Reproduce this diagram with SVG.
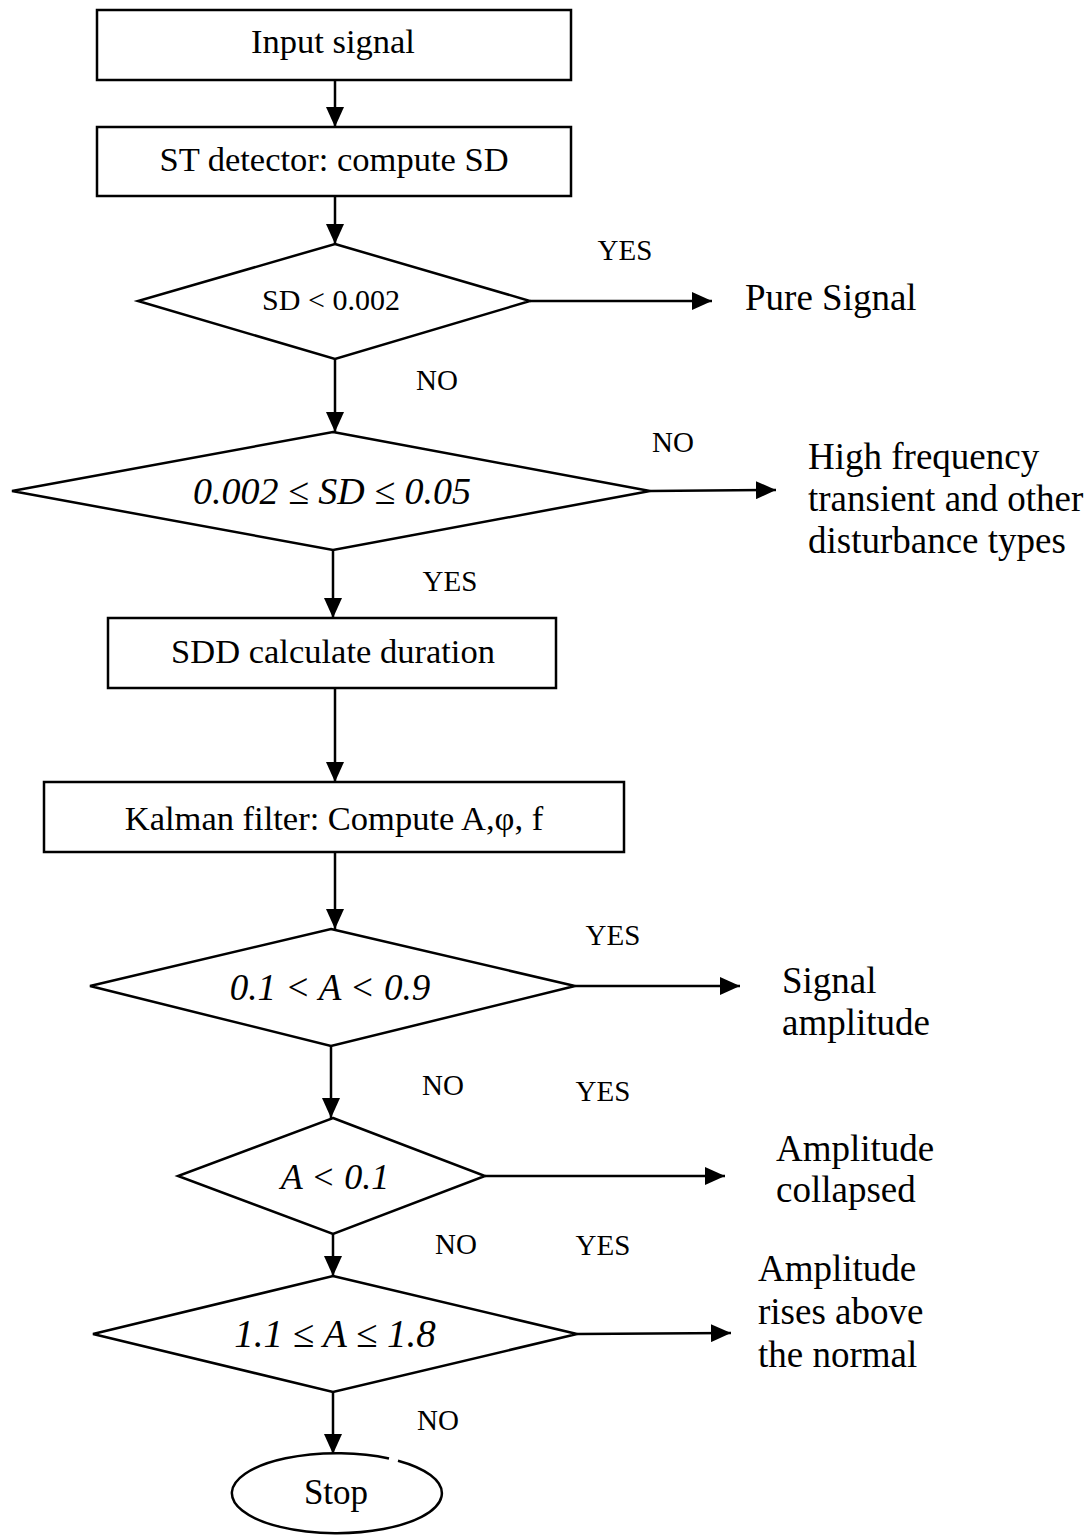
<svg xmlns="http://www.w3.org/2000/svg" width="1088" height="1535" viewBox="0 0 1088 1535">
<style>
.box{fill:#fff;stroke:#000;stroke-width:2.5}
.t{font-family:"Liberation Serif","Times New Roman",serif;fill:#000}
.c{text-anchor:middle}
.it{font-style:italic}
.lbl{font-size:29px}
.side{font-size:37px}
.bx{font-size:34.5px}
.con{fill:none;stroke:#000;stroke-width:2.5}
</style>
<defs>
<marker id="ah" viewBox="0 0 20 18" refX="20" refY="9" markerWidth="20" markerHeight="18" markerUnits="userSpaceOnUse" orient="auto">
<path d="M0,0 L20,9 L0,18 z" fill="#000"/>
</marker>
</defs>
<rect width="1088" height="1535" fill="#fff"/>

<g id="connectors">
<line class="con" x1="335" y1="80" x2="335" y2="127" marker-end="url(#ah)"/>
<line class="con" x1="335" y1="196" x2="335" y2="244" marker-end="url(#ah)"/>
<line class="con" x1="530" y1="301" x2="712" y2="301" marker-end="url(#ah)"/>
<line class="con" x1="335" y1="359" x2="335" y2="432" marker-end="url(#ah)"/>
<line class="con" x1="650" y1="491" x2="776" y2="490" marker-end="url(#ah)"/>
<line class="con" x1="333" y1="550" x2="333" y2="618" marker-end="url(#ah)"/>
<line class="con" x1="335" y1="688" x2="335" y2="782" marker-end="url(#ah)"/>
<line class="con" x1="335" y1="852" x2="335" y2="929" marker-end="url(#ah)"/>
<line class="con" x1="575" y1="986" x2="740" y2="986" marker-end="url(#ah)"/>
<line class="con" x1="331" y1="1046" x2="331" y2="1118" marker-end="url(#ah)"/>
<line class="con" x1="485" y1="1176" x2="725" y2="1176" marker-end="url(#ah)"/>
<line class="con" x1="333" y1="1234" x2="333" y2="1276" marker-end="url(#ah)"/>
<line class="con" x1="577" y1="1334" x2="731" y2="1333" marker-end="url(#ah)"/>
<line class="con" x1="333" y1="1392" x2="333" y2="1454" marker-end="url(#ah)"/>
</g>

<g id="labels">
<text class="t lbl c" x="625" y="260">YES</text>
<text class="t lbl c" x="437" y="390">NO</text>
<text class="t lbl c" x="673" y="452">NO</text>
<text class="t lbl c" x="450" y="591">YES</text>
<text class="t lbl c" x="613" y="945">YES</text>
<text class="t lbl c" x="443" y="1095">NO</text>
<text class="t lbl c" x="603" y="1101">YES</text>
<text class="t lbl c" x="456" y="1254">NO</text>
<text class="t lbl c" x="603" y="1255">YES</text>
<text class="t lbl c" x="438" y="1430">NO</text>
</g>

<g id="input">
<rect class="box" x="97" y="10" width="474" height="70"/>
<text class="t bx c" x="333" y="53">Input signal</text>
</g>
<g id="st-detector">
<rect class="box" x="97" y="127" width="474" height="69"/>
<text class="t bx c" x="334" y="171">ST detector: compute SD</text>
</g>
<g id="d-sd">
<polygon class="box" points="335,244 530,301 335,359 138,301"/>
<text class="t c" x="331" y="310" font-size="30">SD &lt; 0.002</text>
</g>
<g id="pure">
<text class="t side" x="745" y="310">Pure Signal</text>
</g>
<g id="d-range">
<polygon class="box" points="333,432 650,491 333,550 12,491"/>
<text class="t it c" x="332" y="504" font-size="38">0.002 ≤ SD ≤ 0.05</text>
</g>
<g id="hf">
<text class="t side" x="808" y="469">High frequency</text>
<text class="t side" x="808" y="511">transient and other</text>
<text class="t side" x="808" y="553">disturbance types</text>
</g>
<g id="sdd">
<rect class="box" x="108" y="618" width="448" height="70"/>
<text class="t bx c" x="333" y="663">SDD calculate duration</text>
</g>
<g id="kalman">
<rect class="box" x="44" y="782" width="580" height="70"/>
<text class="t bx c" x="334" y="830">Kalman filter: Compute A,φ, f</text>
</g>
<g id="d-a1">
<polygon class="box" points="331,929 575,986 331,1046 90,986"/>
<text class="t it c" x="330" y="1000" font-size="37">0.1 &lt; A &lt; 0.9</text>
</g>
<g id="sig-amp">
<text class="t side" x="782" y="993">Signal</text>
<text class="t side" x="782" y="1035">amplitude</text>
</g>
<g id="d-a2">
<polygon class="box" points="333,1118 485,1176 333,1234 178,1176"/>
<text class="t it c" x="335" y="1189" font-size="36">A &lt; 0.1</text>
</g>
<g id="collapsed">
<text class="t side" x="776" y="1161">Amplitude</text>
<text class="t side" x="776" y="1202">collapsed</text>
</g>
<g id="d-a3">
<polygon class="box" points="333,1276 577,1334 333,1392 93,1334"/>
<text class="t it c" x="335" y="1347" font-size="39">1.1 ≤ A ≤ 1.8</text>
</g>
<g id="rises">
<text class="t side" x="758" y="1281">Amplitude</text>
<text class="t side" x="758" y="1324">rises above</text>
<text class="t side" x="758" y="1367">the normal</text>
</g>
<g id="stop">
<path class="box" d="M398,1460.7 A105,40 0 1 1 389,1458.5"/>
<text class="t c" x="336" y="1504" font-size="35">Stop</text>
</g>
</svg>
